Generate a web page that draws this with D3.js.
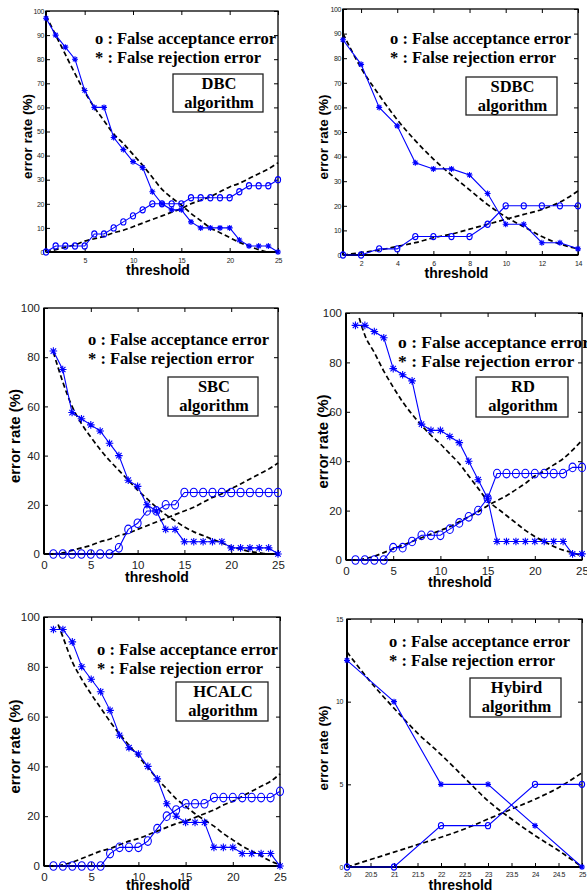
<!DOCTYPE html>
<html>
<head>
<meta charset="UTF-8">
<title>error rate</title>
<script src="https://cdnjs.cloudflare.com/ajax/libs/d3/7.8.5/d3.min.js"></script>
<style>
  body { margin: 0; background: #fff; }
</style>
</head>
<body>
<div class="canvas"></div>
<script>
// thresholds
const thr25 = [1,2,3,4,5,6,7,8,9,10,11,12,13,14,15,16,17,18,19,20,21,22,23,24,25]
const thr14 = [1,2,3,4,5,6,7,8,9,10,11,12,13,14]
const thrHyb = [20,21,22,23,24,25]

// DBC
const dbcFrr = [97,90,85,80,67,60,60,47.5,42.5,37.5,35,25,20,17.5,17.5,12.5,10,10,10,10,5,2.5,2.5,2.5,0]
const dbcFar = [0,2.5,2.5,2.5,2.5,7.5,7.5,10,12.5,15,17.5,20,20,20,20,22.5,22.5,22.5,22.5,22.5,25,27.5,27.5,27.5,30]
const dbcFrrFit = [98,90,82,74,66.5,60,54.5,49,45,40.5,36,31,26,22.5,19.5,16,13,10,8,6,4,2.5,1,0,0]
const dbcFarFit = [0,1,2,3,4.5,5.5,6.5,8,9,10.5,12,13.5,15,16.5,18,20,21.5,23,25,27,28.5,30.5,32.5,34.5,37]

// SDBC
const sdbcFrr = [87.5,77.5,60,52.5,37.5,35,35,32.5,25,12.5,12.5,5,5,2.5]
const sdbcFar = [0,0,2.5,2.5,7.5,7.5,7.5,7.5,12.5,20,20,20,20,20]
const sdbcFrrFit = [90,76,65,55,46.5,39,32.5,26.5,20.5,15.5,11.5,7.5,4.5,2.5]
const sdbcFarFit = [0,1,2,3.5,5,7,8.5,10.5,12.5,14.5,16.5,18.5,21.5,26]

// SBC
const sbcFrr = [82.5,75,57.5,55,52.5,50,45,40,30,27.5,20,17.5,10,10,5,5,5,5,5,2.5,2.5,2.5,2.5,2.5,0]
const sbcFar = [0,0,0,0,0,0,0,2.5,10,12.5,17.5,17.5,20,20,25,25,25,25,25,25,25,25,25,25,25]
const sbcFrrFit = [82,70,60,53,47.5,42.5,38,34,30,26,22.5,19,16,13.5,11,9,7.5,6,4.5,3,2,1,0.5,0,0]
const sbcFarFit = [0,0.5,1.5,2.5,3.5,5,6,7.5,8.5,10,11.5,13,14.5,16,17.5,19,21,23,24.5,26.5,28.5,30.5,32.5,34.5,37]

// RD
const rdFrr = [95,95,92.5,90,77.5,75,72.5,55,52.5,52.5,50,47.5,40,32.5,25,7.5,7.5,7.5,7.5,7.5,7.5,7.5,7.5,2.5,2.5]
const rdFar = [0,0,0,0,5,5,7.5,10,10,10,12.5,15,17.5,20,25,35,35,35,35,35,35,35,35,37.5,37.5]
const rdFitX = [1.4,2,3,4,5,6,7,8,9,10,11,12,13,14,15,16,17,18,19,20,21,22,23,24,25]
const rdFrrFit = [98,91,84,76.5,70,64,59,54.5,50.5,47,43,39,34,29,24,21,18,15,12,9.5,7.5,5.5,4,3,1.5]
const rdFarFit = [0,0.5,1.5,3,4.5,6,7.5,9,10.5,12,13.5,15.5,17.5,19.5,22,24,26,28.5,31,34,36,38.5,41,44.5,48.5]

// HCALC
const hcFrr = [95,95,90,80,75,70,62.5,52.5,47.5,45,40,35,25,20,17.5,17.5,17.5,7.5,7.5,7.5,5,5,5,5,0]
const hcFar = [0,0,0,0,0,0,5,7.5,7.5,7.5,10,15,20,22.5,25,25,25,27.5,27.5,27.5,27.5,27.5,27.5,27.5,30]
const hcFitX = [1.5,2,3,4,5,6,7,8,9,10,11,12,13,14,15,16,17,18,19,20,21,22,23,24,25]
const hcFrrFit = [97,92,82,75,69,63.5,58,53,48.5,44,39.5,35,31,27,24,21,18.5,16,13,10.5,8,6,4,2,0.5]
const hcFarFit = [0,0.5,1.5,3,4.5,6,7,8.5,10,11,12.5,14,15.5,17,18,19.5,21,22.5,24.5,26,28,30,32,34,37]

// Hybird
const hybFrr = [12.5,10,5,5,2.5,0]
const hybFar = [0,0,2.5,2.5,5,5]
const hybFitX = [20,20.5,21,21.5,22,22.5,23,23.5,24,24.5,25]
const hybFrrFit = [13,11.2,9.6,8.1,6.8,5.4,4.0,2.9,1.9,1.0,0]
const hybFarFit = [0,0.45,0.9,1.35,1.8,2.3,2.9,3.5,4.1,4.8,5.7]

// ticks
const xTicksDbc = [5,10,15,20,25]
const xTicksSdbc = [2,4,6,8,10,12,14]
const xTicks25 = [0,5,10,15,20,25]
const xTicksHyb = [20,20.5,21,21.5,22,22.5,23,23.5,24,24.5,25]
const yTicks10 = [0,10,20,30,40,50,60,70,80,90,100]
const yTicks20 = [0,20,40,60,80,100]
const yTicksHyb = [0,5,10,15]

const legend1 = 'o : False acceptance error'
const legend2 = '* : False rejection error'

const panels = [
  {name:'DBC', x:thr25, frr:dbcFrr, far:dbcFar, fitX:thr25, frrFit:dbcFrrFit, farFit:dbcFarFit,
   xd:[1,25], yd:[0,100], xt:xTicksDbc, yt:yTicks10,
   L:{l:46,r:278,t:11,b:252, tf:7, xp:6, yp:2, yl:13.5, ylx:27, leg:[95,44], lf:16.5, box:[173,74,90,38], thY:275, small:true}},
  {name:'SDBC', x:thr14, frr:sdbcFrr, far:sdbcFar, fitX:thr14, frrFit:sdbcFrrFit, farFit:sdbcFarFit,
   xd:[1,14], yd:[0,100], xt:xTicksSdbc, yt:yTicks10,
   L:{l:343,r:578,t:9,b:255, tf:7, xp:6, yp:2, yl:13.5, ylx:323, leg:[390,44], lf:16.5, box:[466,77,91,38], thY:278, small:true}},
  {name:'SBC', x:thr25, frr:sbcFrr, far:sbcFar, fitX:thr25, frrFit:sbcFrrFit, farFit:sbcFarFit,
   xd:[0,25], yd:[0,100], xt:xTicks25, yt:yTicks20,
   L:{l:44,r:278,t:308,b:554, tf:11.5, xp:7, yp:4, yl:15, ylx:15, leg:[88,345], lf:16.5, box:[168,377,90,39], thY:582, small:false}},
  {name:'RD', x:thr25, frr:rdFrr, far:rdFar, fitX:rdFitX, frrFit:rdFrrFit, farFit:rdFarFit,
   xd:[0,25], yd:[0,100], xt:xTicks25, yt:yTicks20,
   L:{l:346,r:582,t:313,b:560, tf:11.5, xp:7, yp:4, yl:15, ylx:323, leg:[398,348], lf:17.5, box:[476,377,92,40], thY:587, small:false}},
  {name:'HCALC', x:thr25, frr:hcFrr, far:hcFar, fitX:hcFitX, frrFit:hcFrrFit, farFit:hcFarFit,
   xd:[0,25], yd:[0,100], xt:xTicks25, yt:yTicks20,
   L:{l:44,r:280,t:617,b:866, tf:11.5, xp:7, yp:4, yl:15, ylx:15, leg:[97,655], lf:16.5, box:[176,682,92,39], thY:890, small:false}},
  {name:'Hybird', x:thrHyb, frr:hybFrr, far:hybFar, fitX:hybFitX, frrFit:hybFrrFit, farFit:hybFarFit,
   xd:[20,25], yd:[0,15], xt:xTicksHyb, yt:yTicksHyb,
   L:{l:347,r:582,t:619,b:867, tf:7, xp:5, yp:4, yl:13.5, ylx:323, leg:[389,647], lf:16.5, box:[470,678,91,39], thY:890, small:true}}
]

const svg = d3.select('.canvas')
  .append('svg')
  .attr('width', 587)
  .attr('height', 892)
  .style('display', 'block')

const blue = '#0000ff'
const sans = 'Liberation Sans, Arial, sans-serif'
const serif = 'Liberation Serif, Times New Roman, serif'

function starPath(s) {
  const k = s * 0.72
  return `M${-s},0L${s},0M0,${-s}L0,${s}M${-k},${-k}L${k},${k}M${-k},${k}L${k},${-k}`
}

panels.forEach(p => {
  const L = p.L
  const g = svg.append('g')
  const x = d3.scaleLinear().domain(p.xd).range([L.l, L.r])
  const y = d3.scaleLinear().domain(p.yd).range([L.b, L.t])

  // frame
  g.append('rect')
    .attr('x', L.l).attr('y', L.t)
    .attr('width', L.r - L.l).attr('height', L.b - L.t)
    .attr('fill', 'none').attr('stroke', '#000').attr('stroke-width', 1.3)

  const fmt = d => String(d)
  const axes = [
    [d3.axisBottom(x).tickValues(p.xt).tickPadding(L.xp).tickFormat(fmt), `translate(0,${L.b})`],
    [d3.axisTop(x).tickValues(p.xt).tickFormat(''), `translate(0,${L.t})`],
    [d3.axisLeft(y).tickValues(p.yt).tickPadding(L.yp).tickFormat(fmt), `translate(${L.l},0)`],
    [d3.axisRight(y).tickValues(p.yt).tickFormat(''), `translate(${L.r},0)`]
  ]
  axes.forEach(([ax, tr]) => {
    const a = g.append('g').attr('transform', tr)
      .call(ax.tickSizeInner(-4).tickSizeOuter(0))
    a.select('.domain').remove()
    a.selectAll('line').attr('stroke', '#000')
    a.selectAll('text')
      .attr('fill', '#222')
      .style('font-family', sans)
      .style('font-size', L.tf + 'px')
  })
  if (L.small) {
    g.selectAll('text').attr('letter-spacing', -0.4)
  }
  // thicker left / bottom lines
  g.append('line').attr('x1', L.l).attr('x2', L.l).attr('y1', L.t).attr('y2', L.b)
    .attr('stroke', '#000').attr('stroke-width', 2)
  g.append('line').attr('x1', L.l).attr('x2', L.r).attr('y1', L.b).attr('y2', L.b)
    .attr('stroke', '#000').attr('stroke-width', 2)

  // dashed fitted curves
  const fitLine = d3.line().x(d => x(d[0])).y(d => y(d[1])).curve(d3.curveMonotoneX)
  ;[p.frrFit, p.farFit].forEach(arr => {
    g.append('path')
      .attr('d', fitLine(p.fitX.map((v, i) => [v, arr[i]])))
      .attr('fill', 'none').attr('stroke', '#000')
      .attr('stroke-width', 1.7).attr('stroke-dasharray', '5,3')
  })

  // measured series
  const line = d3.line().x(d => x(d[0])).y(d => y(d[1]))
  const frrPts = p.x.map((v, i) => [v, p.frr[i]])
  const farPts = p.x.map((v, i) => [v, p.far[i]])
  ;[frrPts, farPts].forEach(pts => {
    g.append('path').attr('d', line(pts))
      .attr('fill', 'none').attr('stroke', blue).attr('stroke-width', 1.1)
  })
  const rs = L.small ? 3 : 3.8
  g.selectAll('.star').data(frrPts).enter().append('path')
    .attr('transform', d => `translate(${x(d[0])},${y(d[1])})`)
    .attr('d', starPath(rs))
    .attr('stroke', blue).attr('stroke-width', 1.1).attr('fill', 'none')
  g.selectAll('.circ').data(farPts).enter().append('ellipse')
    .attr('cx', d => x(d[0])).attr('cy', d => y(d[1]))
    .attr('rx', L.small ? 2.6 : 3.5).attr('ry', L.small ? 3.1 : 4.3)
    .attr('fill', 'none').attr('stroke', blue).attr('stroke-width', 1.1)

  // axis labels
  g.append('text')
    .attr('transform', `translate(${L.ylx},${(L.t + L.b) / 2 + 5}) rotate(-90)`)
    .attr('text-anchor', 'middle').attr('dy', '0.35em')
    .style('font-family', sans).style('font-weight', 'bold').style('font-size', L.yl + 'px')
    .text('error rate (%)')
  g.append('text')
    .attr('x', (L.l + L.r) / 2 - 4).attr('y', L.thY)
    .attr('text-anchor', 'middle')
    .style('font-family', sans).style('font-weight', 'bold').style('font-size', '14px')
    .text('threshold')

  // legend
  ;[legend1, legend2].forEach((t, i) => {
    g.append('text')
      .attr('x', L.leg[0]).attr('y', L.leg[1] + i * 19)
      .style('font-family', serif).style('font-weight', 'bold').style('font-size', L.lf + 'px')
      .text(t)
  })

  // name box
  const b = L.box
  g.append('rect').attr('x', b[0]).attr('y', b[1]).attr('width', b[2]).attr('height', b[3])
    .attr('fill', '#fff').attr('stroke', '#222').attr('stroke-width', 1.3)
  ;[p.name, 'algorithm'].forEach((t, i) => {
    g.append('text')
      .attr('x', b[0] + b[2] / 2 + 1).attr('y', b[1] + 15 + i * 19)
      .attr('text-anchor', 'middle')
      .style('font-family', serif).style('font-weight', 'bold').style('font-size', '16.5px')
      .text(t)
  })
})
</script>
</body>
</html>
